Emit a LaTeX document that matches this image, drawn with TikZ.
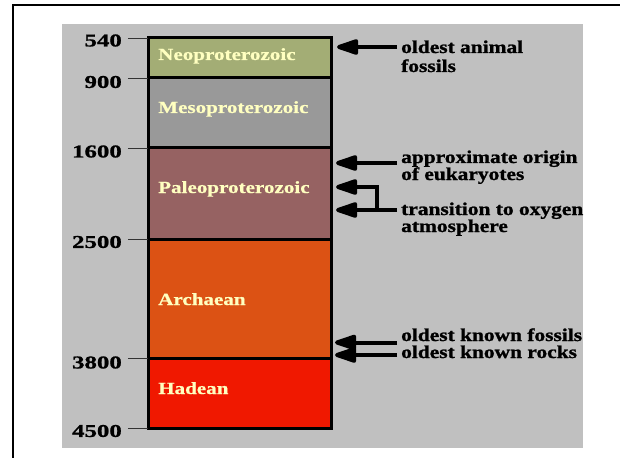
\documentclass[tikz,border=0pt]{standalone}
\usepackage{fontspec}
\setmainfont{Liberation Serif}
\newfontfamily\agefont[FakeStretch=1.38, FakeBold=1.2]{Liberation Serif Bold}
\newfontfamily\erafont[FakeStretch=1.24, FakeBold=0.8]{Liberation Serif Bold}
\newfontfamily\notefont[FakeStretch=1.19, FakeBold=1.2]{Liberation Serif Bold}
\usetikzlibrary{arrows.meta}

\definecolor{panelgray}{HTML}{C0C0C0}
\definecolor{eraneo}{HTML}{A3AD75}
\definecolor{erameso}{HTML}{999999}
\definecolor{erapaleo}{HTML}{966262}
\definecolor{eraarch}{HTML}{DC5214}
\definecolor{erahad}{HTML}{F01800}
\definecolor{eratext}{HTML}{FFFFC0}

\begin{document}
\begin{tikzpicture}[x=1pt, y=-1pt,
    age/.style={anchor=east, inner sep=0pt, font=\agefont\fontsize{18}{18}\selectfont},
    era/.style={anchor=base west, inner sep=0pt, text=eratext, font=\erafont\fontsize{17}{17}\selectfont},
    note/.style={anchor=base west, inner xsep=4pt, inner ysep=0pt, font=\notefont\fontsize{18}{18}\selectfont},
    bigarrow/.style={line width=4pt, -{Triangle[length=26pt, width=16pt, round]}}]
    \useasboundingbox (0,0) rectangle (620,457);

    % frame and panel
    \fill[white] (0,0) rectangle (620,457);
    \draw[line width=2.7pt] (13,460) -- (13,5) -- (622,5);
    \fill[panelgray] (62,24) rectangle (583,448);

    % era bands
    \fill[eraneo]   (148,38)  rectangle (331,78);
    \fill[erameso]  (148,78)  rectangle (331,148);
    \fill[erapaleo] (148,148) rectangle (331,239);
    \fill[eraarch]  (148,239) rectangle (331,358);
    \fill[erahad]   (148,358) rectangle (331,428.5);
    \foreach \y in {78, 148, 239, 358} {
      \draw[line width=3pt] (148,\y) -- (331,\y);
    }
    \draw[line width=3pt] (148,38) rectangle (331,428.5);

    % ticks
    \foreach \y in {38, 78, 148, 239, 358, 428.5} {
      \draw[black!80] (128,\y) -- (148,\y);
    }

    % ages (Ma)
    \node[age] (a540)  at (122,40.5)  {540};
    \node[age] (a900)  at (122,82)    {900};
    \node[age] (a1600) at (122,151.5) {1600};
    \node[age] (a2500) at (122,242)   {2500};
    \node[age] (a3800) at (122,362.5) {3800};
    \node[age] (a4500) at (122,431)   {4500};

    % era names
    \node[era] (neo)   at (158,60)  {Neoproterozoic};
    \node[era] (meso)  at (158,113) {Mesoproterozoic};
    \node[era] (paleo) at (158,193) {Paleoproterozoic};
    \node[era] (arch)  at (158,305) {Archaean};
    \node[era] (had)   at (158,394) {Hadean};

    % events
    \node[note] (animal)  at (397,53)  {oldest animal};
    \node[note] (animalb) at (397,72)  {fossils};
    \node[note] (euk)     at (397,163) {approximate origin};
    \node[note] (eukb)    at (397,180) {of eukaryotes};
    \node[note] (oxy)     at (397,215) {transition to oxygen};
    \node[note] (oxyb)    at (397,232) {atmosphere};
    \node[note] (fossil)  at (397,341) {oldest known fossils};
    \node[note] (rock)    at (397,358) {oldest known rocks};

    \coordinate (tipanimal) at (337,47);
    \coordinate (tipeuk)    at (336,163);
    \coordinate (tipoxya)   at (336,187);
    \coordinate (tipoxyb)   at (336,210);
    \coordinate (fork)      at (377,187);
    \coordinate (tipfossil) at (335,342.5);
    \coordinate (tiprock)   at (335,355);

    % arrows
    \draw[bigarrow] (animal.west |- tipanimal) -- (tipanimal);
    \draw[bigarrow] (euk.west |- tipeuk) -- (tipeuk);
    \draw[bigarrow] (oxy.west |- tipoxyb) -- (tipoxyb);
    \draw[bigarrow] (fork |- tipoxyb) -- (fork) -- (tipoxya);
    \draw[bigarrow] (fossil.west |- tipfossil) -- (tipfossil);
    \draw[bigarrow] (rock.west |- tiprock) -- (tiprock);

\end{tikzpicture}
\end{document}
